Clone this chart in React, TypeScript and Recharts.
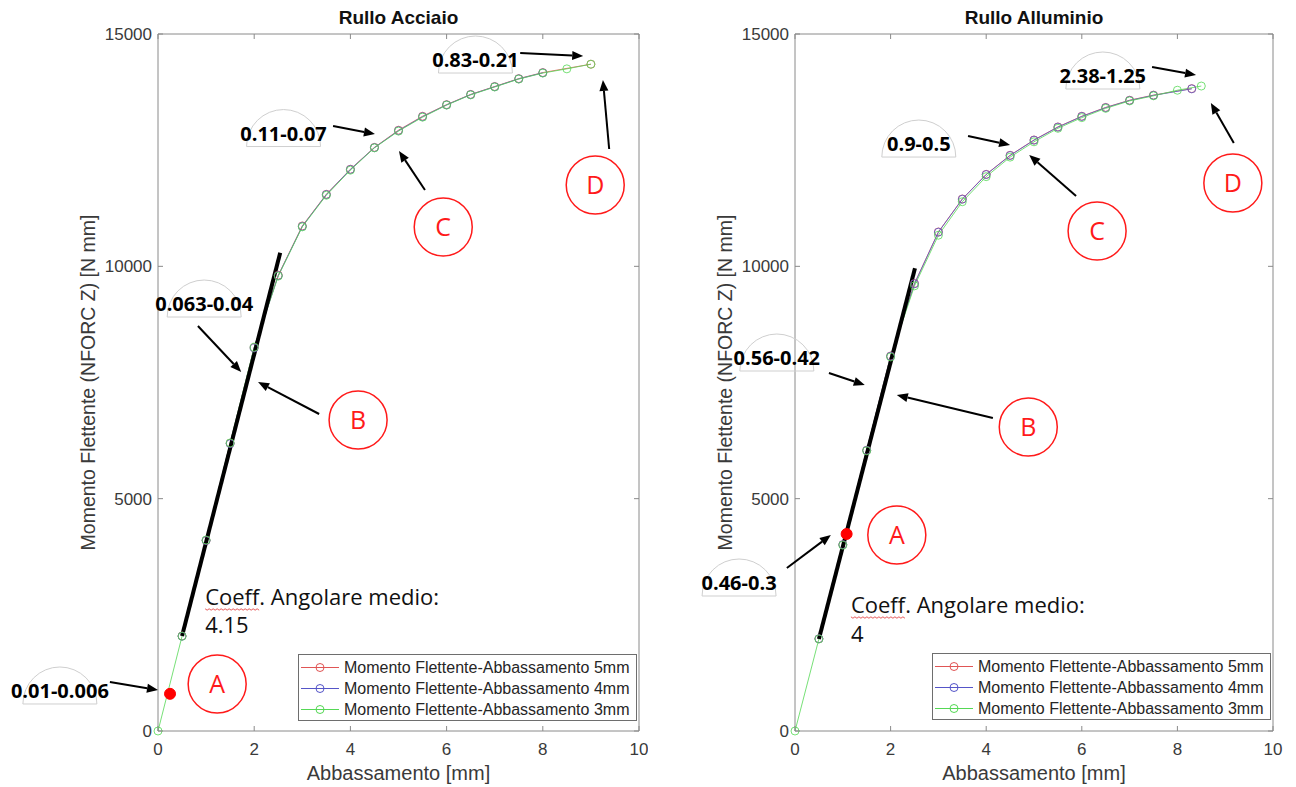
import { LineChart, Line, XAxis, YAxis, ReferenceArea, ReferenceDot, ReferenceLine, Legend } from 'recharts'

const SERIES_NAMES = [
  'Momento Flettente-Abbassamento 5mm',
  'Momento Flettente-Abbassamento 4mm',
  'Momento Flettente-Abbassamento 3mm',
]
const SERIES_COLORS = ['#e05555', '#5555c8', '#55d855']

const X_TICKS = [0, 2, 4, 6, 8, 10]
const Y_TICKS = [0, 5000, 10000, 15000]

// Rullo Acciaio
const steelX5 = [0.5, 1, 1.5, 2, 2.5, 3, 3.5, 4, 4.5, 5, 5.5, 6, 6.5, 7, 7.5, 8, 9]
const steelY5 = [2045, 4100, 6190, 8250, 9810, 10870, 11550, 12090, 12560, 12930, 13230, 13480, 13700, 13870, 14040, 14170, 14350]
const steelX4 = [0.5, 1, 1.5, 2, 2.5, 3, 3.5, 4, 4.5, 5, 5.5, 6, 6.5, 7, 7.5, 8]
const steelY4 = [2040, 4100, 6185, 8245, 9800, 10860, 11545, 12085, 12555, 12920, 13220, 13475, 13695, 13865, 14035, 14165]
const steelX3 = [0, 0.5, 1, 1.5, 2, 2.5, 3, 3.5, 4, 4.5, 5, 5.5, 6, 6.5, 7, 7.5, 8, 8.5, 9]
const steelY3 = [0, 2040, 4110, 6200, 8260, 9790, 10850, 11530, 12070, 12550, 12910, 13210, 13470, 13690, 13860, 14030, 14160, 14250, 14350]
const steelFitX = [0.5, 2.54]
const steelFitY = [2044, 10290]
const steelPoint = [0.25, 800]

// Rullo Alluminio
const alumX5 = [0.5, 1, 1.5, 2, 2.5, 3, 3.5, 4, 4.5, 5, 5.5, 6, 6.5, 7, 7.5, 8.3]
const alumY5 = [1985, 4010, 6040, 8070, 9630, 10740, 11450, 11980, 12390, 12720, 13000, 13230, 13420, 13575, 13685, 13825]
const alumX4 = [0.5, 1, 1.5, 2, 2.5, 3, 3.5, 4, 4.5, 5, 5.5, 6, 6.5, 7, 7.5, 8.3]
const alumY4 = [1985, 4010, 6040, 8065, 9625, 10735, 11445, 11975, 12385, 12715, 12995, 13225, 13415, 13570, 13680, 13820]
const alumX3 = [0, 0.5, 1, 1.5, 2, 2.5, 3, 3.5, 4, 4.5, 5, 5.5, 6, 6.5, 7, 7.5, 8, 8.5]
const alumY3 = [0, 1980, 4000, 6030, 8050, 9580, 10670, 11390, 11930, 12350, 12680, 12970, 13200, 13400, 13560, 13670, 13790, 13880]
const alumFitX = [0.5, 2.51]
const alumFitY = [1980, 9960]
const alumPoint = [1.08, 4240]

// annotations (data coordinates)
const steelCircles = [
  { label: 'A', x: 1.23, y: 1011 },
  { label: 'B', x: 4.16, y: 6693 },
  { label: 'C', x: 5.93, y: 10846 },
  { label: 'D', x: 9.09, y: 11750 },
]
const steelTags = [
  { text: '0.01-0.006', x: -2.04, y: 861 },
  { text: '0.063-0.04', x: 0.96, y: 9189 },
  { text: '0.11-0.07', x: 2.61, y: 12858 },
  { text: '0.83-0.21', x: 6.6, y: 14440 },
]
const steelArrows = [
  [-1.0, 1054, 0.0, 882],
  [0.83, 8716, 1.73, 7726],
  [3.35, 6822, 2.08, 7510],
  [3.64, 13020, 4.51, 12847],
  [5.55, 11642, 5.01, 12482],
  [7.53, 14591, 8.84, 14526],
  [9.38, 12525, 9.25, 14010],
]
const steelCoeff = { lines: ['Coeff. Angolare medio:', '4.15'], x: 0.98, y: [2712, 2109] }

const alumCircles = [
  { label: 'A', x: 2.13, y: 4218 },
  { label: 'B', x: 4.88, y: 6542 },
  { label: 'C', x: 6.32, y: 10760 },
  { label: 'D', x: 9.16, y: 11793 },
]
const alumTags = [
  { text: '0.46-0.3', x: -1.17, y: 3185 },
  { text: '0.56-0.42', x: -0.38, y: 8027 },
  { text: '0.9-0.5', x: 2.59, y: 12632 },
  { text: '2.38-1.25', x: 6.44, y: 14096 },
]
const alumArrows = [
  [-0.17, 3508, 0.75, 4218],
  [0.71, 7704, 1.46, 7446],
  [4.14, 6736, 2.13, 7231],
  [3.62, 12804, 4.5, 12611],
  [5.88, 11513, 4.9, 12396],
  [7.47, 14289, 8.39, 14117],
  [9.18, 12654, 8.7, 13515],
]
const alumCoeff = { lines: ['Coeff. Angolare medio:', '4'], x: 1.17, y: [2539, 1915] }

const W = 648
const H = 787
const PLOT_TOP = 34
const PLOT_BOTTOM = 731
const AXIS_COLOR = '#8a8a8a'
const TEXT_COLOR = '#3a3a3a'
const NOTE_FONT = '"Open Sans", "Noto Sans", sans-serif'

const zip = (xs: number[], ys: number[]) => xs.map((x, i) => ({ x, y: ys[i] }))

const XTick = ({ x, payload }: any) => (
  <g>
    <line x1={x} x2={x} y1={PLOT_BOTTOM} y2={PLOT_BOTTOM - 5} stroke={AXIS_COLOR} />
    <line x1={x} x2={x} y1={PLOT_TOP} y2={PLOT_TOP + 5} stroke={AXIS_COLOR} />
    <text x={x} y={PLOT_BOTTOM + 24} textAnchor="middle" fontSize={17} fill={TEXT_COLOR}>
      {payload.value}
    </text>
  </g>
)

const makeYTick = (plotLeft: number, plotRight: number) => ({ y, payload }: any) => (
  <g>
    <line x1={plotLeft} x2={plotLeft + 5} y1={y} y2={y} stroke={AXIS_COLOR} />
    <line x1={plotRight - 5} x2={plotRight} y1={y} y2={y} stroke={AXIS_COLOR} />
    <text x={plotLeft - 6} y={y + 6} textAnchor="end" fontSize={17} fill={TEXT_COLOR}>
      {payload.value}
    </text>
  </g>
)

const CircleTag = ({ cx, cy, label }: any) => (
  <g>
    <circle cx={cx} cy={cy} r={29} fill="none" stroke="#ff1a1a" strokeWidth={1.5} />
    <text x={cx} y={cy + 9} textAnchor="middle" fontSize={25} fill="#ff1a1a" fontFamily={NOTE_FONT}>
      {label}
    </text>
  </g>
)

const ValueTag = ({ cx, cy, text }: any) => (
  <g>
    <path
      d={`M ${cx - 37} ${cy + 13} A 37 37 0 0 1 ${cx + 37} ${cy + 13} Z`}
      fill="none"
      stroke="#cfcfcf"
      strokeWidth={1}
    />
    <text x={cx} y={cy + 7} textAnchor="middle" fontSize={20} fontWeight="bold" fill="#000" fontFamily={NOTE_FONT}>
      {text}
    </text>
  </g>
)

const Arrow = ({ x1, y1, x2, y2 }: any) => {
  const a = Math.atan2(y2 - y1, x2 - x1)
  const len = 11
  const hw = 4.5
  const bx = x2 - len * Math.cos(a)
  const by = y2 - len * Math.sin(a)
  const px = -Math.sin(a) * hw
  const py = Math.cos(a) * hw
  return (
    <g>
      <line x1={x1} y1={y1} x2={bx} y2={by} stroke="#000" strokeWidth={2} />
      <polygon points={`${x2},${y2} ${bx + px},${by + py} ${bx - px},${by - py}`} fill="#000" />
    </g>
  )
}

const CoeffText = ({ cx, cy, text, wavy }: any) => {
  let wave = ''
  if (wavy) {
    for (let i = 0; i <= 27; i++) wave += `${i === 0 ? 'M' : 'L'} ${cx + i * 2} ${cy + 4 + (i % 2 ? 1.2 : -0.2)} `
  }
  return (
    <g>
      <text x={cx} y={cy} fontSize={22} fill="#111" fontFamily={NOTE_FONT}>
        {text}
      </text>
      {wavy && <path d={wave} fill="none" stroke="#e03030" strokeWidth={0.8} />}
    </g>
  )
}

const renderLegend = () => (
  <div
    style={{
      border: '1px solid #6e6e6e',
      background: '#fff',
      width: 339,
      height: 67,
      boxSizing: 'border-box',
      paddingTop: 2,
    }}
  >
    {SERIES_NAMES.map((name, i) => (
      <div key={name} style={{ display: 'flex', alignItems: 'center', height: 21 }}>
        <svg width={42} height={21} style={{ display: 'block' }}>
          <line x1={2} x2={40} y1={10.5} y2={10.5} stroke={SERIES_COLORS[i]} />
          <circle cx={21} cy={10.5} r={4} fill="none" stroke={SERIES_COLORS[i]} />
        </svg>
        <span style={{ fontSize: 16, color: '#262626', marginLeft: 3, whiteSpace: 'nowrap' }}>{name}</span>
      </div>
    ))}
  </div>
)

function Panel({ left, title, plotLeft, plotRight, series, fit, point, circles, tags, arrows, coeff, legendPos }: any) {
  const yAxisWidth = 80
  return (
    <div style={{ position: 'absolute', left, top: 0, width: W, height: H }}>
      <LineChart
        width={W}
        height={H}
        margin={{ top: PLOT_TOP, right: W - plotRight, bottom: H - PLOT_BOTTOM - 49, left: plotLeft - yAxisWidth }}
      >
        <XAxis
          type="number"
          dataKey="x"
          domain={[0, 10]}
          ticks={X_TICKS}
          axisLine={false}
          tickLine={false}
          tick={XTick}
          height={49}
          label={{ value: 'Abbassamento [mm]', position: 'insideBottom', offset: 0, style: { fontSize: 20, fill: TEXT_COLOR } }}
        />
        <YAxis
          type="number"
          domain={[0, 15000]}
          ticks={Y_TICKS}
          axisLine={false}
          tickLine={false}
          tick={makeYTick(plotLeft, plotRight)}
          width={yAxisWidth}
          label={{
            value: 'Momento Flettente (NFORC Z) [N mm]',
            angle: -90,
            position: 'insideLeft',
            offset: 10,
            style: { textAnchor: 'middle', fontSize: 19.5, fill: TEXT_COLOR },
          }}
        />
        <ReferenceArea x1={0} x2={10} y1={0} y2={15000} fill="none" stroke={AXIS_COLOR} strokeWidth={1} ifOverflow="visible" />
        {series.map((s: any, i: number) => (
          <Line
            key={SERIES_NAMES[i]}
            name={SERIES_NAMES[i]}
            data={s}
            dataKey="y"
            stroke={SERIES_COLORS[i]}
            strokeOpacity={0.8}
            strokeWidth={1}
            dot={{ r: 4, strokeWidth: 1, fill: 'none', strokeOpacity: 0.8 }}
            activeDot={false}
            isAnimationActive={false}
          />
        ))}
        <Line
          data={fit}
          dataKey="y"
          stroke="#000"
          strokeWidth={4}
          dot={false}
          activeDot={false}
          legendType="none"
          isAnimationActive={false}
        />
        <ReferenceDot x={point[0]} y={point[1]} r={5.5} fill="#ff0000" stroke="#ff0000" ifOverflow="visible" />
        {circles.map((c: any) => (
          <ReferenceDot
            key={c.label}
            x={c.x}
            y={c.y}
            r={29}
            ifOverflow="visible"
            shape={(p: any) => <CircleTag cx={p.cx} cy={p.cy} label={c.label} />}
          />
        ))}
        {tags.map((t: any) => (
          <ReferenceDot
            key={t.text}
            x={t.x}
            y={t.y}
            r={1}
            ifOverflow="visible"
            shape={(p: any) => <ValueTag cx={p.cx} cy={p.cy} text={t.text} />}
          />
        ))}
        {arrows.map((a: number[], i: number) => (
          <ReferenceLine
            key={`arrow-${i}`}
            segment={[{ x: a[0], y: a[1] }, { x: a[2], y: a[3] }]}
            ifOverflow="visible"
            shape={(p: any) => <Arrow {...p} />}
          />
        ))}
        {coeff.lines.map((line: string, i: number) => (
          <ReferenceDot
            key={`coeff-${i}`}
            x={coeff.x}
            y={coeff.y[i]}
            r={1}
            ifOverflow="visible"
            shape={(p: any) => <CoeffText cx={p.cx} cy={p.cy} text={line} wavy={i === 0} />}
          />
        ))}
        <Legend
          layout="horizontal"
          verticalAlign="middle"
          align="center"
          content={renderLegend}
          wrapperStyle={{ left: legendPos[0], top: legendPos[1], width: 339, height: 67, bottom: 'auto', right: 'auto' }}
        />
      </LineChart>
      <div
        style={{
          position: 'absolute',
          left: plotLeft,
          width: plotRight - plotLeft,
          top: 8,
          textAlign: 'center',
          fontSize: 19,
          lineHeight: '20px',
          fontWeight: 'bold',
          color: '#111',
          pointerEvents: 'none',
        }}
      >
        {title}
      </div>
    </div>
  )
}

export default function App() {
  return (
    <div
      style={{
        position: 'absolute',
        left: 0,
        top: 0,
        width: 1296,
        height: 787,
        background: '#fff',
        fontFamily: '"Liberation Sans", Arial, sans-serif',
        overflow: 'hidden',
      }}
    >
      <Panel
        left={0}
        title="Rullo Acciaio"
        plotLeft={158}
        plotRight={639}
        series={[zip(steelX5, steelY5), zip(steelX4, steelY4), zip(steelX3, steelY3)]}
        fit={zip(steelFitX, steelFitY)}
        point={steelPoint}
        circles={steelCircles}
        tags={steelTags}
        arrows={steelArrows}
        coeff={steelCoeff}
        legendPos={[298, 654]}
      />
      <Panel
        left={648}
        title="Rullo Alluminio"
        plotLeft={147}
        plotRight={625}
        series={[zip(alumX5, alumY5), zip(alumX4, alumY4), zip(alumX3, alumY3)]}
        fit={zip(alumFitX, alumFitY)}
        point={alumPoint}
        circles={alumCircles}
        tags={alumTags}
        arrows={alumArrows}
        coeff={alumCoeff}
        legendPos={[284, 653]}
      />
    </div>
  )
}
